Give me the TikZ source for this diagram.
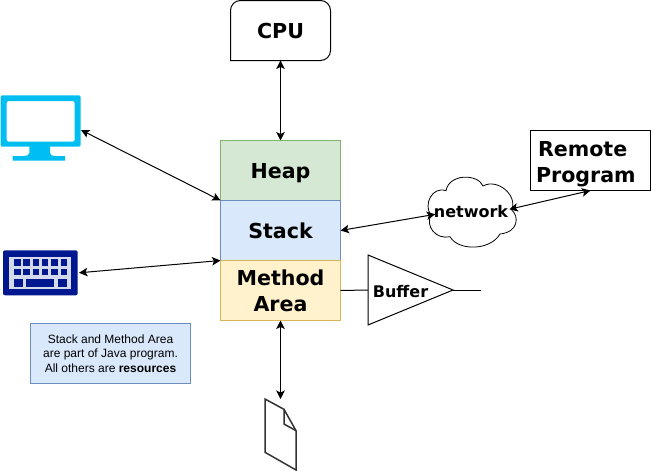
\documentclass[tikz,border=0pt]{standalone}
\usepackage{fontspec}
\setmainfont{DejaVu Sans}
\newfontfamily\notefont{Liberation Sans}
\usetikzlibrary{arrows.meta}
\definecolor{monblue}{HTML}{00BEF2}
\definecolor{keyblue}{HTML}{00188F}
\definecolor{keylight}{HTML}{D3DAEE}
\definecolor{filegray}{HTML}{333333}
\newcommand{\nudged}[2]{\raisebox{-#1}[\height][\depth]{#2}}
\tikzset{
  lbl/.style={font=\bfseries\fontsize{20.6}{26}\selectfont},
  smalllbl/.style={font=\bfseries\fontsize{16}{19}\selectfont,inner sep=0pt},
  block/.style={draw,rectangle,minimum width=120pt,minimum height=60pt,outer sep=0pt,line width=1pt,inner sep=0pt,align=center,lbl},
  ghost/.style={rectangle,outer sep=0pt,inner sep=0pt},
  link/.style={line width=1pt,black,{Stealth[length=8.5pt,width=8.5pt,inset=2pt]}-{Stealth[length=8.5pt,width=8.5pt,inset=2pt]}},
  plain/.style={line width=1pt,black},
  outline/.style={line width=1pt,black},
}
\begin{document}
\begin{tikzpicture}[x=1pt,y=-1pt]
\useasboundingbox (0,0) rectangle (651,471);
% CPU
\node[ghost,minimum width=100pt,minimum height=60pt,lbl] (cpu) at (280.5,30.5) {\nudged{0.5pt}{CPU}};
\draw[outline] (cpu.south west) -- ([yshift=-10pt]cpu.north west) to[out=90,in=180] ([xshift=10pt]cpu.north west) -- ([xshift=-10pt]cpu.north east) to[out=0,in=90] ([yshift=-10pt]cpu.north east) -- ([yshift=10pt]cpu.south east) to[out=-90,in=0] ([xshift=-10pt]cpu.south east) -- cycle;
% memory blocks
\node[block,fill={rgb,255:red,213;green,232;blue,212},draw={rgb,255:red,130;green,179;blue,102}] (heap) at (280.5,170.5) {\nudged{3.1pt}{Heap}};
\node[block,fill={rgb,255:red,218;green,232;blue,252},draw={rgb,255:red,108;green,142;blue,191}] (stack) at (280.5,230.5) {\nudged{0.8pt}{Stack}};
\node[block,fill={rgb,255:red,255;green,242;blue,204},draw={rgb,255:red,214;green,182;blue,86}] (method) at (280.5,290.5) {\nudged{0.7pt}{Method}\\\nudged{0.7pt}{Area}};
% monitor
\node[ghost,minimum width=80pt,minimum height=66pt] (monitor) at (41,128) {};
\fill[monblue,rounded corners=2pt,even odd rule] (0.7,95.3) rectangle (80.7,146.7) (6.7,101) rectangle (74.7,141.7);
\fill[monblue] (29.3,146) -- (50,146) -- (50,153) .. controls (50,155) and (52,156) .. (55,156) -- (65,156) -- (65,160.7) -- (12.7,160.7) -- (12.7,156) -- (24,156) .. controls (27,156) and (29.3,155) .. (29.3,153) -- cycle;
% keyboard
\node[ghost,minimum width=76pt,minimum height=45pt] (keyboard) at (41,272.8) {};
\fill[keyblue,rounded corners=2pt] (3,250.3) rectangle (77.7,295.3);
\fill[keylight] (9.3,256.7) rectangle (71,289.3);
\foreach \i in {0,...,5}{
  \fill[keyblue] ({14+9.33*\i},259.3) rectangle ++(6.5,6.7);
  \fill[keyblue] ({14+9.33*\i},269.3) rectangle ++(6.5,6);
}
\fill[keyblue] (14,278.7) rectangle (23.3,286.7);
\fill[keyblue] (26.3,278.7) rectangle (54.3,286.7);
\fill[keyblue] (57.7,278.7) rectangle (67.3,286.7);
% note
\node[draw={rgb,255:red,108;green,142;blue,191},fill={rgb,255:red,218;green,232;blue,252},line width=1pt,rectangle,minimum width=160pt,minimum height=60pt,outer sep=0pt,inner sep=0pt,align=center,font=\notefont\fontsize{12}{14.4}\selectfont] (note) at (110.5,353.5) {Stack and Method Area\\are part of Java program.\\All others are \textbf{resources}};
% file
\node[ghost,minimum width=31pt,minimum height=71pt] (file) at (280.5,434.5) {};
\draw[filegray,line width=1.5pt,line join=miter] (265,399) -- (284,409.3) -- (296,430.7) -- (296,470) -- (265,452.3) -- cycle;
\draw[filegray,line width=1.5pt] (284,409.3) -- (284,424) -- (296,430.7);
% cloud
\draw[outline,line width=0.8pt,fill=white] (446,190.7) .. controls (449,173.5) and (478,173.5) .. (483,186) .. controls (497,178) and (518,195) .. (511.7,210) .. controls (519,216) and (519,232) .. (500,234) .. controls (490,251) and (458,251) .. (450,236.7) .. controls (436,240) and (425,226) .. (431,215) .. controls (423,205) and (432,186) .. (446,190.7) -- cycle;
\node[smalllbl,minimum width=74pt] (network) at (471,211.5) {network};
% remote
\node[draw,line width=1pt,rectangle,minimum width=120pt,minimum height=60pt,outer sep=0pt,inner sep=5.5pt,text width=109pt,align=left,lbl] (remote) at (590.5,160.5) {\hspace*{2pt}\nudged{3.4pt}{Remote}\\\nudged{3.4pt}{Program}};
% buffer
\node[ghost,minimum width=85pt,minimum height=70pt] (buffer) at (410.5,290) {};
\draw[outline] (buffer.north west) -- (buffer.south west) -- (buffer.east) -- cycle;
\node[smalllbl] (buffertext) at (400.5,291.5) {Buffer};
\coordinate (bufout) at (481,290);
% connectors
\draw[link] (cpu.south) -- (heap.north);
\draw[link] ([yshift=-2pt]monitor.east) -- (heap.south west);
\draw[link] (keyboard.east) -- (method.north west);
\draw[link] (stack.east) -- ([yshift=-2.8pt,xshift=1.5pt]network.west);
\draw[link] ([yshift=2.2pt,xshift=1pt]network.east) -- (remote.south);
\draw[link] (method.south) -- (file.north);
\draw[plain] (method.east) -- (buffer.west);
\draw[plain] (buffer.east) -- (bufout);
\end{tikzpicture}
\end{document}
